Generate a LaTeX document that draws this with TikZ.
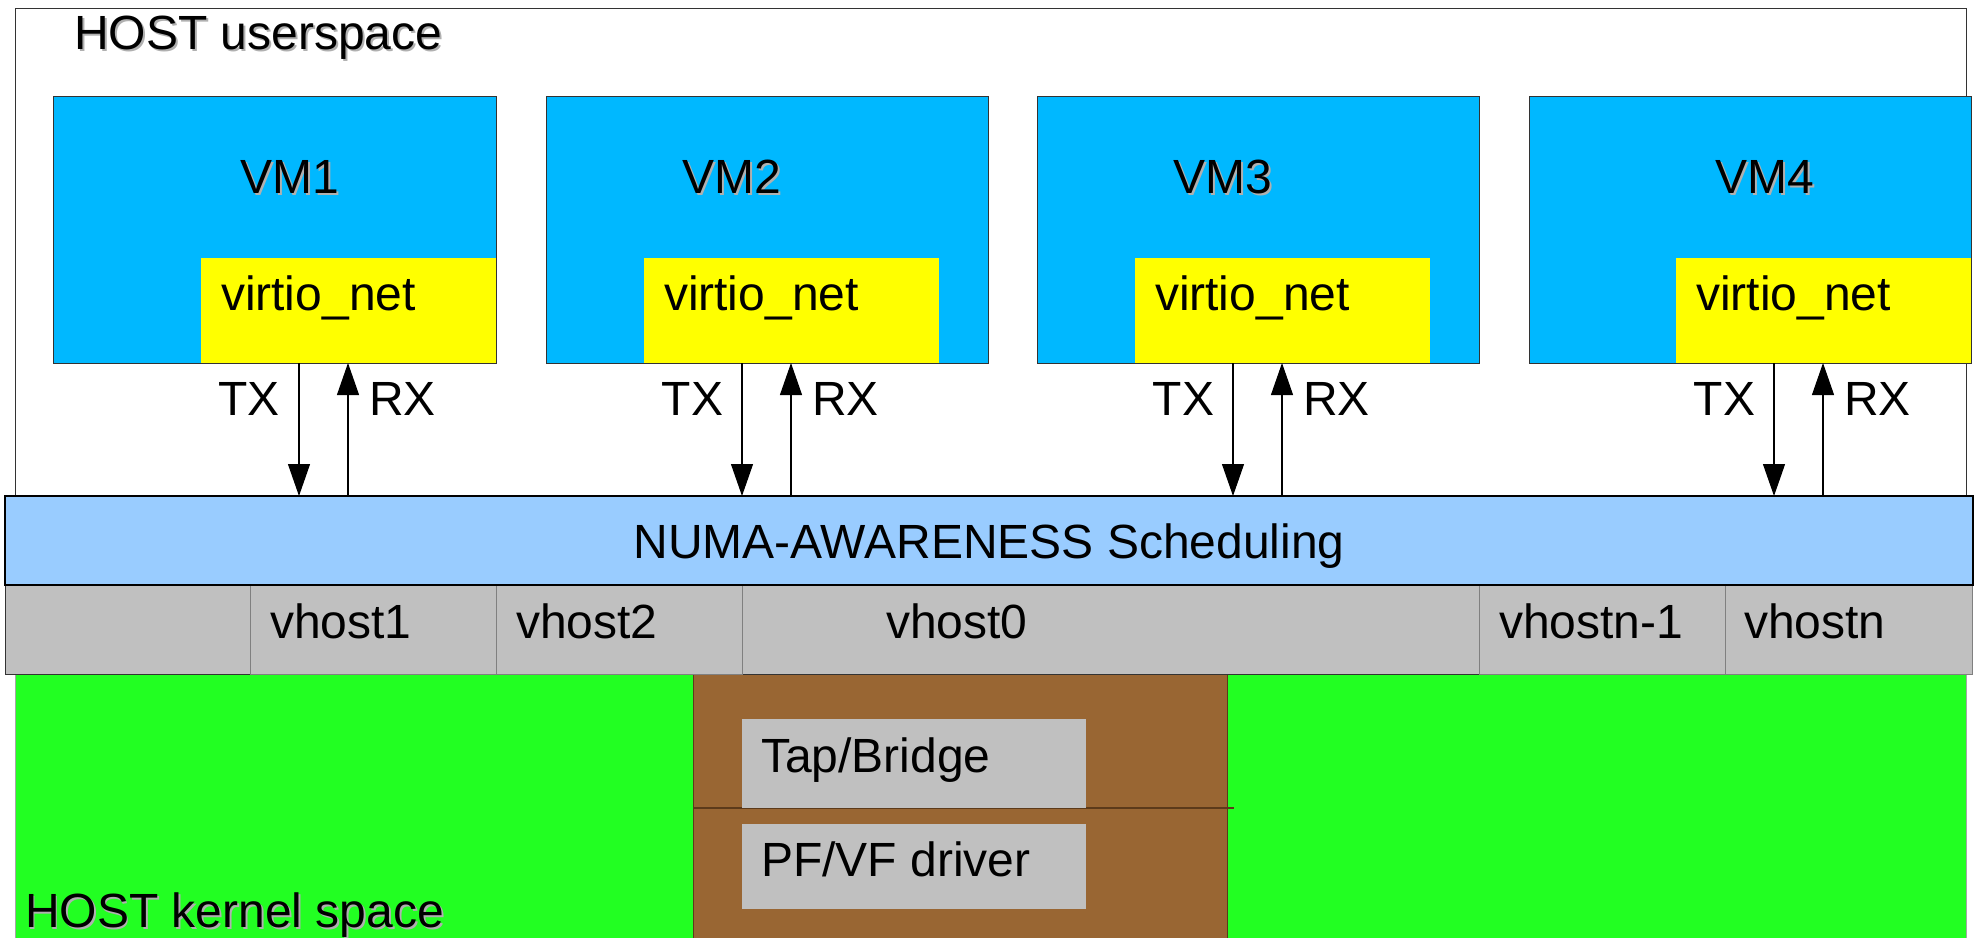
\documentclass[tikz,border=0pt]{standalone}
\usepackage{fontspec}
\setmainfont{Liberation Sans}
\usetikzlibrary{arrows.meta}
\definecolor{vmblue}{HTML}{00B8FF}
\definecolor{vnyellow}{HTML}{FFFF00}
\definecolor{numablue}{HTML}{99CCFF}
\definecolor{cellgray}{HTML}{C0C0C0}
\definecolor{kgreen}{HTML}{22FF22}
\definecolor{kbrown}{HTML}{996633}
\definecolor{kbrowndark}{HTML}{5C3A1A}
\definecolor{shadowgray}{HTML}{B0B0B0}
\definecolor{edgedark}{HTML}{333333}
\begin{document}
\begin{tikzpicture}[x=1pt,y=-1pt,
  box/.style={rectangle,inner sep=0pt,outer sep=0pt,anchor=north west},
  txt/.style={inner sep=0pt,outer sep=0pt,anchor=base west,font=\fontsize{48}{57}\selectfont},
  shadowtxt/.style={txt,text=shadowgray},
  vmbox/.style={box,fill=vmblue,draw=edgedark,line width=1pt,minimum height=267pt},
  vnbox/.style={box,fill=vnyellow,minimum width=295pt,minimum height=105pt},
  cellbox/.style={box,fill=cellgray,draw=gray,line width=0.8pt,minimum height=89pt},
  flow/.style={line width=1.1pt,-{Triangle[width=22pt,length=32pt]}}]
\useasboundingbox (0,0) rectangle (1978,937);

% host userspace frame
\node[box,fill=white,draw=edgedark,line width=1pt,minimum width=1951pt,minimum height=488pt] (user) at (15,8) {};
\node[shadowtxt] (usershadow) at (76,51) {HOST userspace};
\node[txt] (usertext) at (74,49) {HOST userspace};

% kernel space
\node[box,fill=kgreen,draw=gray!70,line width=0.8pt,minimum width=1951pt,minimum height=280pt] (kernel) at (15,674) {};
\node[box,fill=kbrown,draw=kbrowndark,line width=0.8pt,minimum width=534pt,minimum height=280pt] (brown) at (693,674) {};
\coordinate (sepend) at (1234,808);
\draw[kbrowndark,line width=1.2pt] (brown.west |- sepend) -- (sepend);
\node[box,fill=cellgray,minimum width=344pt,minimum height=89pt] (tap) at (742,719) {};
\node[txt] (taptext) at (761,772) {Tap/Bridge};
\node[box,fill=cellgray,minimum width=344pt,minimum height=85pt] (pf) at (742,824) {};
\node[txt] (pftext) at (761,876) {PF/VF driver};
\node[shadowtxt] (kshadow) at (27,929) {HOST kernel space};
\node[txt] (ktext) at (25,927) {HOST kernel space};

% vhost row
\node[box,fill=cellgray,draw=edgedark,line width=1pt,minimum width=1967pt,minimum height=89pt] (vrow) at (5,585) {};
\node[cellbox,minimum width=246pt] (c1) at (250,585) {};
\node[cellbox,minimum width=246pt] (c2) at (496,585) {};
\node[cellbox,minimum width=246pt] (cn1) at (1479,585) {};
\node[cellbox,minimum width=247pt] (cn) at (1725,585) {};
\draw[gray,line width=0.8pt] (c2.north east) -- (c2.south east);
\node[txt] (v1) at (270,638) {vhost1};
\node[txt] (v2) at (516,638) {vhost2};
\node[txt] (v0) at (886,638) {vhost0};
\node[txt] (vn1) at (1499,638) {vhostn-1};
\node[txt] (vn) at (1744,638) {vhostn};

% NUMA bar
\node[box,fill=numablue,draw=black,line width=1.2pt,minimum width=1968pt,minimum height=89pt] (numa) at (5,496) {};
\node[txt,anchor=base] (numatext) at (989,558) {NUMA-AWARENESS Scheduling};

% VMs
\node[vmbox,minimum width=443pt] (vm1) at (53,96) {};
\node[vmbox,minimum width=442pt] (vm2) at (546,96) {};
\node[vmbox,minimum width=442pt] (vm3) at (1037,96) {};
\node[vmbox,minimum width=442pt] (vm4) at (1529,96) {};
\node[vnbox] (y1) at (201,258) {};
\node[vnbox] (y2) at (644,258) {};
\node[vnbox] (y3) at (1135,258) {};
\node[vnbox] (y4) at (1676,258) {};

\foreach \i/\vx/\yx in {1/240/221, 2/682/664, 3/1173/1155, 4/1715/1696}{
  \node[shadowtxt] (vms\i) at (\vx+2,195) {VM\i};
  \node[txt] (vmt\i) at (\vx,193) {VM\i};
  \node[txt] (vnt\i) at (\yx,310) {virtio\_net};
}

% TX / RX
\foreach \i/\t in {1/299, 2/742, 3/1233, 4/1774}{
  \coordinate (tx\i) at (\t,0);
  \coordinate (rx\i) at (\t+49,0);
  \draw[flow] (y\i.south -| tx\i) -- (numa.north -| tx\i);
  \draw[flow] (numa.north -| rx\i) -- (y\i.south -| rx\i);
  \node[txt,anchor=base east] (txl\i) at (\t-19,415) {TX};
  \node[txt] (rxl\i) at (\t+70,415) {RX};
}
\end{tikzpicture}
\end{document}
